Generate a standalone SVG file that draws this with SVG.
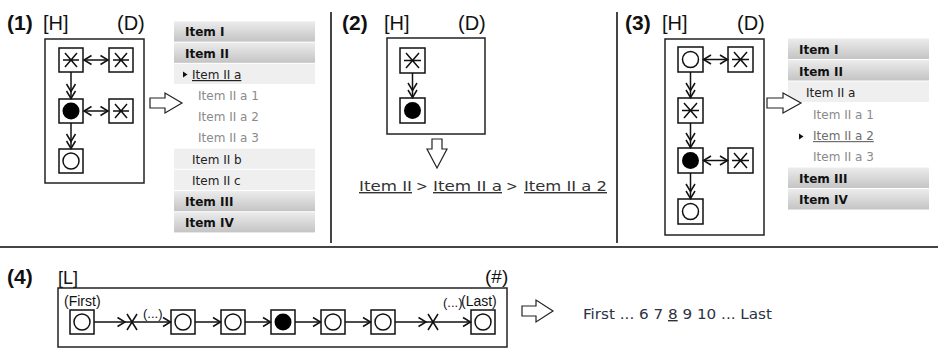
<svg xmlns="http://www.w3.org/2000/svg" width="938" height="349" viewBox="0 0 938 349">
  <style>
    .lbl { font-family: "Liberation Sans", Arial, sans-serif; font-size: 20px; fill: #111; }
    .num { font-family: "Liberation Sans", Arial, sans-serif; font-size: 21px; font-weight: bold; fill: #111; }
    .small { font-family: "Liberation Sans", Arial, sans-serif; font-size: 14px; fill: #111; }
    .frame { fill: none; stroke: #222; stroke-width: 1.5; }
    .node { fill: #fff; stroke: #111; stroke-width: 1.5; }
    .glyph { fill: none; stroke: #111; stroke-width: 1.5; }
    .dot { fill: #000; }
    .ring { fill: none; stroke: #111; stroke-width: 1.5; }
    .edge { fill: none; stroke: #111; stroke-width: 1.5; }
    .sep { stroke: #444; stroke-width: 2; }
    .big { fill: #fff; stroke: #222; stroke-width: 1.2; stroke-linejoin: miter; }
    .mh { font-family: "DejaVu Sans", Verdana, sans-serif; font-size: 12px; font-weight: bold; fill: #111; }
    .mi { font-family: "DejaVu Sans", Verdana, sans-serif; font-size: 12px; fill: #222; }
    .ms { font-family: "DejaVu Sans", Verdana, sans-serif; font-size: 12px; fill: #8a8a8a; }
    .hdr { fill: url(#hdrGrad); }
    .lite { fill: #efefef; }
    .ul { text-decoration: underline; }
    .crumb { font-family: "DejaVu Sans", Verdana, sans-serif; font-size: 14px; fill: #333; }
    .pager { font-family: "DejaVu Sans", Verdana, sans-serif; font-size: 14px; fill: #2b3242; }
  </style>
  <defs>
    <linearGradient id="hdrGrad" x1="0" y1="0" x2="0" y2="1">
      <stop offset="0" stop-color="#ececec"/>
      <stop offset="1" stop-color="#c4c4c4"/>
    </linearGradient>
    <marker id="head" viewBox="0 0 8 10" refX="7.5" refY="5" markerWidth="8" markerHeight="10" markerUnits="userSpaceOnUse" orient="auto-start-reverse" overflow="visible">
      <path d="M0,0.5 L7.5,5 L0,9.5" fill="none" stroke="#111" stroke-width="1.5"/>
    </marker>
    <marker id="head2" viewBox="0 0 15 10" refX="14.5" refY="5" markerWidth="15" markerHeight="10" markerUnits="userSpaceOnUse" orient="auto" overflow="visible">
      <path d="M0,0.5 L7.5,5 L0,9.5 M7,0.5 L14.5,5 L7,9.5" fill="none" stroke="#111" stroke-width="1.5"/>
    </marker>
  </defs>

  <rect width="938" height="349" fill="#fff"/>

  <!-- panel separators -->
  <g id="separators">
    <line class="sep" x1="331" y1="12" x2="331" y2="243"/>
    <line class="sep" x1="617" y1="12" x2="617" y2="243"/>
    <line class="sep" x1="0" y1="247" x2="938" y2="247"/>
  </g>

  <!-- ===== (1) hierarchy, current item ===== -->
  <g id="p1-labels">
    <text class="num" x="7" y="30">(1)</text>
    <text class="lbl" x="43" y="30">[H]</text>
    <text class="lbl" x="117" y="30">(D)</text>
  </g>
  <rect class="frame" x="45" y="39" width="99" height="144"/>
  <g id="p1-n1"><rect class="node" x="59" y="48" width="24" height="24"/><path class="glyph" d="M65,53 L77,67 M77,53 L65,67 M63,60 L79,60"/></g>
  <g id="p1-n2"><rect class="node" x="109" y="48" width="24" height="24"/><path class="glyph" d="M115,53 L127,67 M127,53 L115,67 M113,60 L129,60"/></g>
  <g id="p1-n3"><rect class="node" x="59" y="99" width="24" height="24"/><circle class="dot" cx="71" cy="111" r="8.5"/></g>
  <g id="p1-n4"><rect class="node" x="109" y="99" width="24" height="24"/><path class="glyph" d="M115,104 L127,118 M127,104 L115,118 M113,111 L129,111"/></g>
  <g id="p1-n5"><rect class="node" x="59" y="149" width="24" height="24"/><circle class="ring" cx="71" cy="161" r="8"/></g>
  <g id="p1-edges">
    <path class="edge" d="M84,60 L108,60" marker-start="url(#head)" marker-end="url(#head)"/>
    <path class="edge" d="M84,111 L108,111" marker-start="url(#head)" marker-end="url(#head)"/>
    <path class="edge" d="M71,72 L71,98.5" marker-end="url(#head2)"/>
    <path class="edge" d="M71,123 L71,148.5" marker-end="url(#head2)"/>
  </g>

  <g id="p1-menu">
    <rect class="hdr" x="174" y="21.4" width="141" height="20.2"/>
    <rect class="hdr" x="174" y="42.6" width="141" height="20.2"/>
    <rect class="lite" x="174" y="63.8" width="141" height="20.2"/>
    <rect class="lite" x="174" y="148.6" width="141" height="20.2"/>
    <rect class="lite" x="174" y="169.8" width="141" height="20.2"/>
    <rect class="hdr" x="174" y="191" width="141" height="20.2"/>
    <rect class="hdr" x="174" y="212.2" width="141" height="20.2"/>
    <text class="mh" x="185" y="36">Item I</text>
    <text class="mh" x="185" y="57.5">Item II</text>
    <polygon points="183,71.5 187.5,74.5 183,77.5" fill="#111"/>
    <text class="mi ul" x="192" y="79">Item II a</text>
    <text class="ms" x="198" y="100">Item II a 1</text>
    <text class="ms" x="198" y="121">Item II a 2</text>
    <text class="ms" x="198" y="142">Item II a 3</text>
    <text class="mi" x="192" y="164">Item II b</text>
    <text class="mi" x="192" y="185">Item II c</text>
    <text class="mh" x="185" y="206">Item III</text>
    <text class="mh" x="185" y="227">Item IV</text>
  </g>
  <polygon class="big" points="150,98 165,98 165,93 182,103 165,113 165,108 150,108"/>

  <!-- ===== (2) breadcrumb path ===== -->
  <g id="p2-labels">
    <text class="num" x="342" y="30">(2)</text>
    <text class="lbl" x="384" y="30">[H]</text>
    <text class="lbl" x="458" y="30">(D)</text>
  </g>
  <rect class="frame" x="387" y="38" width="98" height="96"/>
  <g id="p2-n1"><rect class="node" x="400" y="48" width="25" height="25"/><path class="glyph" d="M406,53 L419,68 M419,53 L406,68 M404,60.5 L421,60.5"/></g>
  <g id="p2-n2"><rect class="node" x="400" y="98" width="25" height="25"/><circle class="dot" cx="412.5" cy="110.5" r="8.5"/></g>
  <g id="p2-edges">
    <path class="edge" d="M412.5,73 L412.5,97.5" marker-end="url(#head2)"/>
  </g>
  <polygon class="big" points="432,139 442,139 442,149 447,149 437,168 427,149 432,149"/>
  <g id="p2-crumbs">
    <text class="crumb ul" x="359" y="191" textLength="53" lengthAdjust="spacingAndGlyphs">Item II</text>
    <text class="crumb" x="416" y="191">&gt;</text>
    <text class="crumb ul" x="433" y="191" textLength="69" lengthAdjust="spacingAndGlyphs">Item II a</text>
    <text class="crumb" x="506" y="191">&gt;</text>
    <text class="crumb ul" x="524" y="191" textLength="83" lengthAdjust="spacingAndGlyphs">Item II a 2</text>
  </g>

  <!-- ===== (3) hierarchy, deeper item ===== -->
  <g id="p3-labels">
    <text class="num" x="625" y="30">(3)</text>
    <text class="lbl" x="662" y="30">[H]</text>
    <text class="lbl" x="737" y="30">(D)</text>
  </g>
  <rect class="frame" x="665" y="39" width="99" height="196"/>
  <g id="p3-n1"><rect class="node" x="678" y="47" width="25" height="25"/><circle class="ring" cx="690.5" cy="59.5" r="8"/></g>
  <g id="p3-n2"><rect class="node" x="728" y="47" width="25" height="25"/><path class="glyph" d="M734,52 L747,67 M747,52 L734,67 M732,59.5 L749,59.5"/></g>
  <g id="p3-n3"><rect class="node" x="678" y="98" width="25" height="25"/><path class="glyph" d="M684,103 L697,118 M697,103 L684,118 M682,110.5 L699,110.5"/></g>
  <g id="p3-n4"><rect class="node" x="678" y="148" width="25" height="25"/><circle class="dot" cx="690.5" cy="160.5" r="8.5"/></g>
  <g id="p3-n5"><rect class="node" x="728" y="148" width="25" height="25"/><path class="glyph" d="M734,153 L747,168 M747,153 L734,168 M732,160.5 L749,160.5"/></g>
  <g id="p3-n6"><rect class="node" x="678" y="199" width="25" height="25"/><circle class="ring" cx="690.5" cy="211.5" r="8"/></g>
  <g id="p3-edges">
    <path class="edge" d="M703.5,59.5 L727.5,59.5" marker-start="url(#head)" marker-end="url(#head)"/>
    <path class="edge" d="M703.5,160.5 L727.5,160.5" marker-start="url(#head)" marker-end="url(#head)"/>
    <path class="edge" d="M690.5,72 L690.5,97.5" marker-end="url(#head2)"/>
    <path class="edge" d="M690.5,123 L690.5,147.5" marker-end="url(#head2)"/>
    <path class="edge" d="M690.5,173 L690.5,198.5" marker-end="url(#head2)"/>
  </g>

  <g id="p3-menu">
    <rect class="hdr" x="788" y="38.5" width="141" height="20.5"/>
    <rect class="hdr" x="788" y="60" width="141" height="20.5"/>
    <rect class="lite" x="788" y="81.5" width="141" height="20.5"/>
    <rect class="hdr" x="788" y="167.5" width="141" height="20.5"/>
    <rect class="hdr" x="788" y="189" width="141" height="20.5"/>
    <text class="mh" x="799" y="54">Item I</text>
    <text class="mh" x="799" y="75.5">Item II</text>
    <text class="mi" x="806" y="97">Item II a</text>
    <text class="ms" x="813" y="119">Item II a 1</text>
    <polygon points="799,133.5 803.5,136.5 799,139.5" fill="#111"/>
    <text class="ms ul" x="813" y="140" style="fill:#6e6e6e">Item II a 2</text>
    <text class="ms" x="813" y="161">Item II a 3</text>
    <text class="mh" x="799" y="182.5">Item III</text>
    <text class="mh" x="799" y="204">Item IV</text>
  </g>
  <polygon class="big" points="767,98 783,98 783,93 801,103 783,113 783,108 767,108"/>

  <!-- ===== (4) linear sequence / paging ===== -->
  <g id="p4-labels">
    <text class="num" x="7" y="284">(4)</text>
    <text class="lbl" x="58" y="284" style="font-size:18px">[L]</text>
    <text class="lbl" x="485" y="283" style="font-size:19px">(#)</text>
  </g>
  <rect class="frame" x="58" y="288" width="449" height="59"/>
  <g id="p4-n1"><rect class="node" x="70" y="310" width="24" height="24"/><circle class="ring" cx="82" cy="322" r="8"/></g>
  <g id="p4-skip1"><path class="glyph" d="M127,314 L137,330 M137,314 L127,330"/></g>
  <g id="p4-n2"><rect class="node" x="171" y="310" width="24" height="24"/><circle class="ring" cx="183" cy="322" r="8"/></g>
  <g id="p4-n3"><rect class="node" x="221" y="310" width="24" height="24"/><circle class="ring" cx="233" cy="322" r="8"/></g>
  <g id="p4-n4"><rect class="node" x="271" y="310" width="24" height="24"/><circle class="dot" cx="283" cy="322" r="8.5"/></g>
  <g id="p4-n5"><rect class="node" x="321" y="310" width="24" height="24"/><circle class="ring" cx="333" cy="322" r="8"/></g>
  <g id="p4-n6"><rect class="node" x="371" y="310" width="24" height="24"/><circle class="ring" cx="383" cy="322" r="8"/></g>
  <g id="p4-skip2"><path class="glyph" d="M428,314 L438,330 M438,314 L428,330"/></g>
  <g id="p4-n7"><rect class="node" x="471" y="310" width="24" height="24"/><circle class="ring" cx="483" cy="322" r="8"/></g>
  <g id="p4-edges">
    <path class="edge" d="M94,322 L125,322" marker-end="url(#head)"/>
    <path class="edge" d="M125,322 L170.5,322" marker-end="url(#head)"/>
    <path class="edge" d="M195,322 L220.5,322" marker-end="url(#head)"/>
    <path class="edge" d="M245,322 L270.5,322" marker-end="url(#head)"/>
    <path class="edge" d="M295,322 L320.5,322" marker-end="url(#head)"/>
    <path class="edge" d="M345,322 L370.5,322" marker-end="url(#head)"/>
    <path class="edge" d="M395,322 L426,322" marker-end="url(#head)"/>
    <path class="edge" d="M426,322 L470.5,322" marker-end="url(#head)"/>
  </g>
  <g id="p4-notes">
    <text class="small" x="64" y="306">(First)</text>
    <text class="small" x="143" y="318" style="font-size:13px">(...)</text>
    <text class="small" x="443" y="307" style="font-size:13px">(...)</text>
    <text class="small" x="461" y="306">(Last)</text>
  </g>
  <polygon class="big" points="522,306 536,306 536,300 553,311 536,322 536,316 522,316"/>
  <text class="pager" x="583" y="319" textLength="189" lengthAdjust="spacingAndGlyphs">First ... 6 7 <tspan class="ul">8</tspan> 9 10 ... Last</text>
</svg>
